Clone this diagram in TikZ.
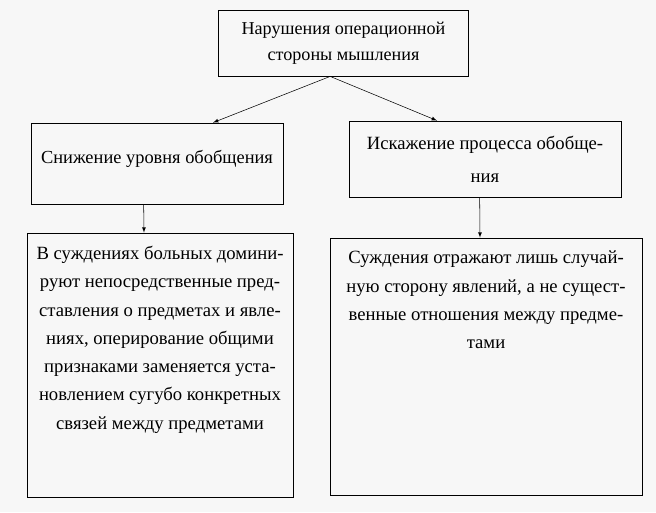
\documentclass[tikz,border=0pt]{standalone}
\usepackage{fontspec}
\setmainfont{Liberation Serif}
\begin{document}
\begin{tikzpicture}[>=latex, x=0.75pt, y=-0.75pt,
  box/.style={draw, line width=0.6pt, inner sep=0pt, align=center},
  txt/.style={align=center, inner sep=0pt, font=\fontsize{14}{21.2}\selectfont}]
\useasboundingbox[fill=white!97!black] (0,0) rectangle (656,512);
% upper levels
\node[name=top, box, minimum width=188pt, minimum height=49.5pt, font=\fontsize{13.6}{19.5}\selectfont] at (343.5,43) {Нарушения операционной\\стороны мышления};
\node[name=midL, box, minimum width=189pt, minimum height=60.75pt, font=\fontsize{13.8}{22}\selectfont] at (157,163.5) {\raisebox{10pt}{Снижение уровня обобщения}};
\node[name=midR, box, minimum width=204pt, minimum height=57pt, font=\fontsize{14}{24.5}\selectfont] at (485,159) {Искажение процесса обобще-\\ния};
% lower level
\node[name=lowL, box, minimum width=199.5pt, minimum height=198pt] at (160,365) {};
\node[name=lowR, box, minimum width=234pt, minimum height=192.75pt] at (486,366.5) {};
\node[name=lowL_text, txt, anchor=north] at ([yshift=-10pt]lowL.north) {В суждениях больных домини-\\руют непосредственные пред-\\ставления о предметах и явле-\\ниях, оперирование общими\\признаками заменяется уста-\\новлением сугубо конкретных\\связей между предметами};
\node[name=lowR_text, txt, anchor=north] at ([yshift=-10pt]lowR.north) {Суждения отражают лишь случай-\\ную сторону явлений, а не сущест-\\венные отношения между предме-\\тами};

\draw([xshift=-10pt]top.south) edge[->]([xshift=42pt]midL.north);
\draw([xshift=-10pt]top.south) edge[->]([xshift=-36pt]midR.north);
\draw([xshift=-10pt]midL.south) edge[->]([xshift=-12pt]lowL.north);
\draw([xshift=-4pt]midR.south) edge[->]([xshift=-4.5pt]lowR.north);
\end{tikzpicture}
\end{document}
